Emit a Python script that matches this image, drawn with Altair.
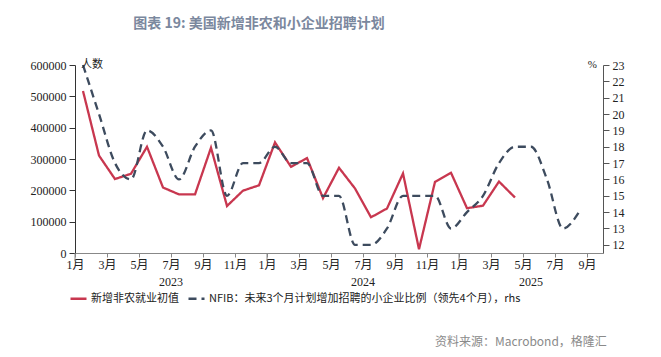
import altair as alt
import pandas as pd

# ---- data ----
nfp_values = [517000, 311000, 236000, 253000, 339000, 209000, 187000, 187000, 336000, 150000,
              199000, 216000, 353000, 275000, 303000, 175000, 272000, 206000, 114000, 142000,
              254000, 12000, 227000, 256000, 143000, 151000, 228000, 177000]
nfib_values = [23, 20, 17, 16, 19, 18, 16, 18, 19, 15, 17, 17, 18, 17, 17, 15, 15, 12, 12, 13,
               15, 15, 15, 13, 14, 15, 17, 18, 18, 16, 13, 14]
series_names = ["新增非农就业初值", "NFIB：未来3个月计划增加招聘的小企业比例（领先4个月），rhs"]
series_colors = ["#c8374f", "#3d4b5e"]
year_labels = ["2023", "2024", "2025"]
year_centers = [6, 18, 28.5]
year_bounds = [0, 12, 24]
left_ticks = [0, 100000, 200000, 300000, 400000, 500000, 600000]
right_ticks = list(range(12, 24))
month_ticks = list(range(0, 33, 2))

df_nfp = pd.DataFrame({"m": [i + 0.5 for i in range(len(nfp_values))],
                       "v": nfp_values, "series": series_names[0]})
df_nfib = pd.DataFrame({"m": [i + 0.5 for i in range(len(nfib_values))],
                        "v": nfib_values, "series": series_names[1]})
df_years = pd.DataFrame({"m": year_centers, "label": year_labels})
df_bounds = pd.DataFrame({"m": year_bounds})

SERIF = "Liberation Serif, Noto Sans CJK SC"
CJK = "Noto Sans CJK SC"

xscale = alt.Scale(domain=[0, 33], nice=False, zero=False)
xaxis = alt.Axis(values=month_ticks, labelExpr="(datum.value % 12 + 1) + '月'", grid=False,
                 tickSize=4, domainColor="#888888", tickColor="#888888", labelFont=SERIF,
                 labelFontSize=12, labelColor="#222222", title=None, labelPadding=2,
                 labelOverlap=False, labelFlush=False, labelBound=False)

color_scale = alt.Scale(domain=series_names, range=series_colors)
dash_scale = alt.Scale(domain=series_names, range=[[1, 0], [8, 5]])
legend = alt.Legend(orient="none", legendX=-6, legendY=224, direction="horizontal", title=None,
                    symbolType="stroke", symbolStrokeWidth=2.5, symbolSize=256,
                    labelFont=CJK, labelFontSize=11, labelColor="#222222", labelLimit=0,
                    columnPadding=4, labelOffset=3)

red = alt.Chart(df_nfp).mark_line(strokeWidth=2.3).encode(
    x=alt.X("m:Q", scale=xscale, axis=xaxis),
    y=alt.Y("v:Q", scale=alt.Scale(domain=[0, 600000], nice=False),
            axis=alt.Axis(values=left_ticks, format="d", grid=False, tickSize=6,
                          domainColor="#333333", tickColor="#333333", labelFont=SERIF,
                          labelFontSize=12, labelColor="#222222", title=None, labelPadding=3)),
    color=alt.Color("series:N", scale=color_scale, legend=legend),
    strokeDash=alt.StrokeDash("series:N", scale=dash_scale, legend=legend),
)

dashed = alt.Chart(df_nfib).mark_line(strokeWidth=2.3, interpolate="monotone").encode(
    x=alt.X("m:Q", scale=xscale, axis=xaxis),
    y=alt.Y("v:Q", scale=alt.Scale(domain=[11.5, 23], nice=False, zero=False),
            axis=alt.Axis(orient="right", values=right_ticks, grid=False, tickSize=6,
                          domainColor="#555555", tickColor="#555555", labelFont=SERIF,
                          labelFontSize=12, labelColor="#222222", title=None, labelPadding=3)),
    color=alt.Color("series:N", scale=color_scale, legend=legend),
    strokeDash=alt.StrokeDash("series:N", scale=dash_scale, legend=legend),
)

years = alt.Chart(df_years).mark_text(font=SERIF, fontSize=12, color="#222222",
                                      baseline="middle").encode(
    x=alt.X("m:Q", scale=xscale, axis=xaxis), y=alt.value(217), text="label:N")

bounds = alt.Chart(df_bounds).mark_rule(color="#888888", strokeWidth=1).encode(
    x=alt.X("m:Q", scale=xscale, axis=xaxis), y=alt.value(188), y2=alt.value(196))

ann_left = alt.Chart(pd.DataFrame({"t": ["人数"]})).mark_text(
    font=CJK, fontSize=11, color="#222222", align="left", baseline="middle").encode(
    x=alt.value(6), y=alt.value(0), text="t:N")
ann_right = alt.Chart(pd.DataFrame({"t": ["%"]})).mark_text(
    font=SERIF, fontSize=11, color="#222222", align="right", baseline="middle").encode(
    x=alt.value(522), y=alt.value(0), text="t:N")
source = alt.Chart(pd.DataFrame({"t": ["资料来源：Macrobond，格隆汇"]})).mark_text(
    font=CJK, fontSize=12, color="#8a8a8a", align="left", baseline="middle").encode(
    x=alt.value(360), y=alt.value(277), text="t:N")

chart = alt.layer(red, dashed, years, bounds, ann_left, ann_right, source).resolve_scale(
    y="independent"
).properties(
    width=528, height=188,
    title=alt.TitleParams("图表 19: 美国新增非农和小企业招聘计划", anchor="middle", frame="group",
                          dx=-80, offset=28, fontSize=14, font=CJK, fontWeight="bold",
                          color="#7b889e"),
    autosize=alt.AutoSizeParams(type="none"),
    padding={"left": 67, "top": 57, "right": 50, "bottom": 100},
).configure_view(stroke=None)

chart.save("out.html", embed_options={"renderer": "svg", "actions": False})
